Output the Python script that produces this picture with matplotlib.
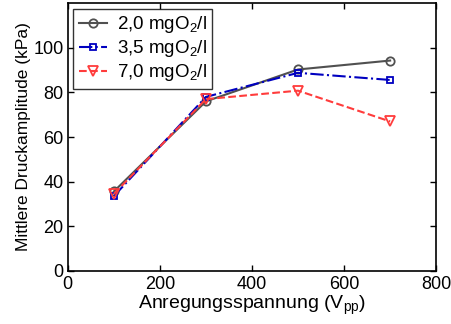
import matplotlib
matplotlib.use('Agg')
import matplotlib.pyplot as plt

plt.rcParams['font.family'] = ['Liberation Sans', 'DejaVu Sans']
plt.rcParams['mathtext.default'] = 'regular'

voltage = [100, 300, 500, 700]
amp_20 = [35.6, 76, 90.3, 94.3]
amp_35 = [33.5, 78, 88.8, 85.6]
amp_70 = [34.5, 77, 80.8, 67]
labels = ['2,0 mgO$_2$/l', '3,5 mgO$_2$/l', '7,0 mgO$_2$/l']

fig = plt.figure(figsize=(4.52, 3.24), dpi=100)
ax = fig.add_axes([0.150, 0.164, 0.815, 0.826])

ax.plot(voltage, amp_20, '-', color='#505050', marker='o', mfc='none', mec='#505050',
        ms=6, mew=1.3, lw=1.5, label=labels[0])
ax.plot(voltage, amp_35, '-.', color='#0000c0', marker='s', mfc='none', mec='#0000c0',
        ms=5, mew=1.3, lw=1.5, label=labels[1])
ax.plot(voltage, amp_70, '--', color='#ff3c3c', marker='v', mfc='none', mec='#ff3c3c',
        ms=7, mew=1.3, lw=1.5, label=labels[2])

ax.set_xlim(0, 800)
ax.set_ylim(0, 120)
ax.set_xticks([0, 200, 400, 600, 800])
ax.set_yticks([0, 20, 40, 60, 80, 100])
ax.tick_params(direction='in', top=True, right=True, labelsize=13, length=4, width=1)
ax.tick_params(axis='x', pad=4)
ax.tick_params(axis='y', pad=3)
for s in ax.spines.values():
    s.set_linewidth(1.2)

ax.set_xlabel('Anregungsspannung (V$_{pp}$)', fontsize=14, labelpad=0.5)
ax.set_ylabel('Mittlere Druckamplitude (kPa)', fontsize=12.5, labelpad=2)

leg = ax.legend(loc='upper left', fontsize=13.5, frameon=True, fancybox=False,
                edgecolor='black', borderaxespad=0.3, handlelength=1.5,
                handletextpad=0.5, labelspacing=0.15, borderpad=0.3)
leg.get_frame().set_linewidth(1.0)

fig.savefig('out.png', dpi=100)
